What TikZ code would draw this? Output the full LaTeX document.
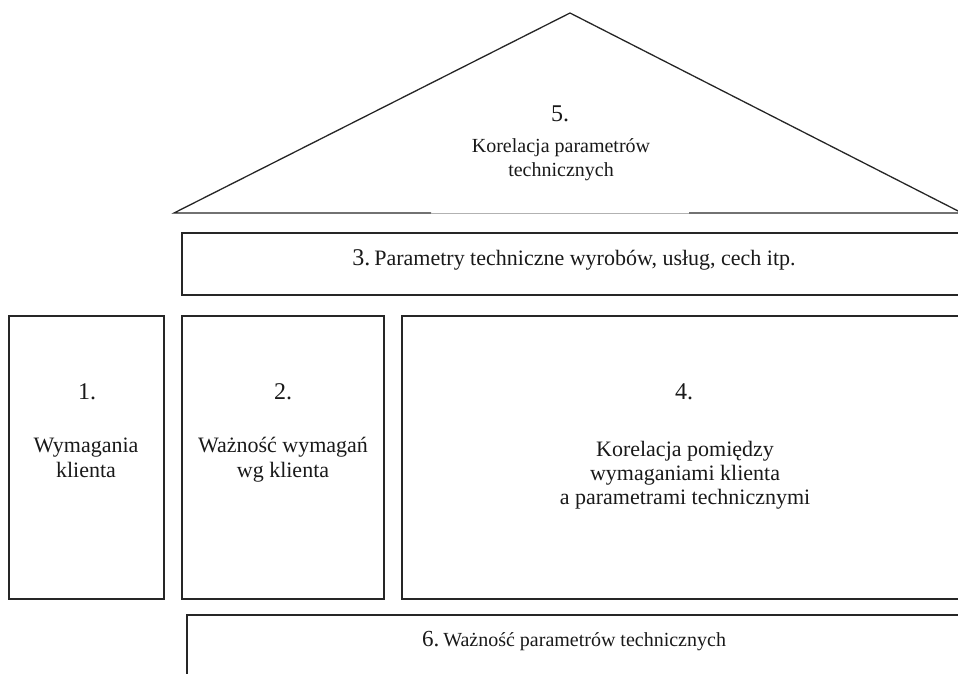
\documentclass[tikz,border=0pt]{standalone}
\usepackage{fontspec}
\setmainfont{Liberation Serif}
\begin{document}
\begin{tikzpicture}[x=1pt,y=-1pt,
  frame/.style={draw=black!85, line width=1.3pt, line join=miter},
  faint/.style={draw=black!30, line width=1pt},
  lbl/.style={anchor=base, inner sep=0pt, text=black!90},
  bignum/.style={lbl, font=\fontsize{24}{24}\selectfont},
  txt/.style={lbl, font=\fontsize{22}{25}\selectfont},
  toptxt/.style={lbl, font=\fontsize{20}{24}\selectfont}]
\useasboundingbox (0,0) rectangle (958,674);
% roof (5)
\coordinate (apex) at (570,13);
\coordinate (bl) at (174,213);
\coordinate (br) at (962,213);
\coordinate (g1) at (431,213);
\coordinate (g2) at (689,213);
\draw[frame] (g1) -- (bl) -- (apex) -- (br) -- (g2);
\draw[faint] (g1) -- (g2);
% boxes
\draw[frame] (182,233) rectangle (975,295);
\draw[frame] (9,316) rectangle (164,599);
\draw[frame] (182,316) rectangle (384,599);
\draw[frame] (402,316) rectangle (975,599);
\draw[frame] (187,615) rectangle (975,700);
% texts
\node[bignum] (n5) at (560,122) {5.};
\node[toptxt] (t5a) at (561,152) {Korelacja parametrów};
\node[toptxt] (t5b) at (561,176) {technicznych};
\node[lbl, font=\fontsize{22}{22}\selectfont] (t3) at (574,265)
  {\fontsize{24}{24}\selectfont 3.\hspace{4pt}\fontsize{22}{22}\selectfont Parametry techniczne wyrobów, usług, cech itp.};
\node[bignum] (n1) at (87,399) {1.};
\node[txt] (t1a) at (86,452) {Wymagania};
\node[txt] (t1b) at (86,477) {klienta};
\node[bignum] (n2) at (283,399) {2.};
\node[txt] (t2a) at (283,452) {Ważność wymagań};
\node[txt] (t2b) at (283,477) {wg klienta};
\node[bignum] (n4) at (684,399) {4.};
\node[txt] (t4a) at (685,456) {Korelacja pomiędzy};
\node[txt] (t4b) at (685,480) {wymaganiami klienta};
\node[txt] (t4c) at (685,504) {a parametrami technicznymi};
\node[lbl, font=\fontsize{20}{20}\selectfont] (t6) at (574,646)
  {\fontsize{23}{23}\selectfont 6.\hspace{4pt}\fontsize{20}{20}\selectfont Ważność parametrów technicznych};
\end{tikzpicture}
\end{document}
